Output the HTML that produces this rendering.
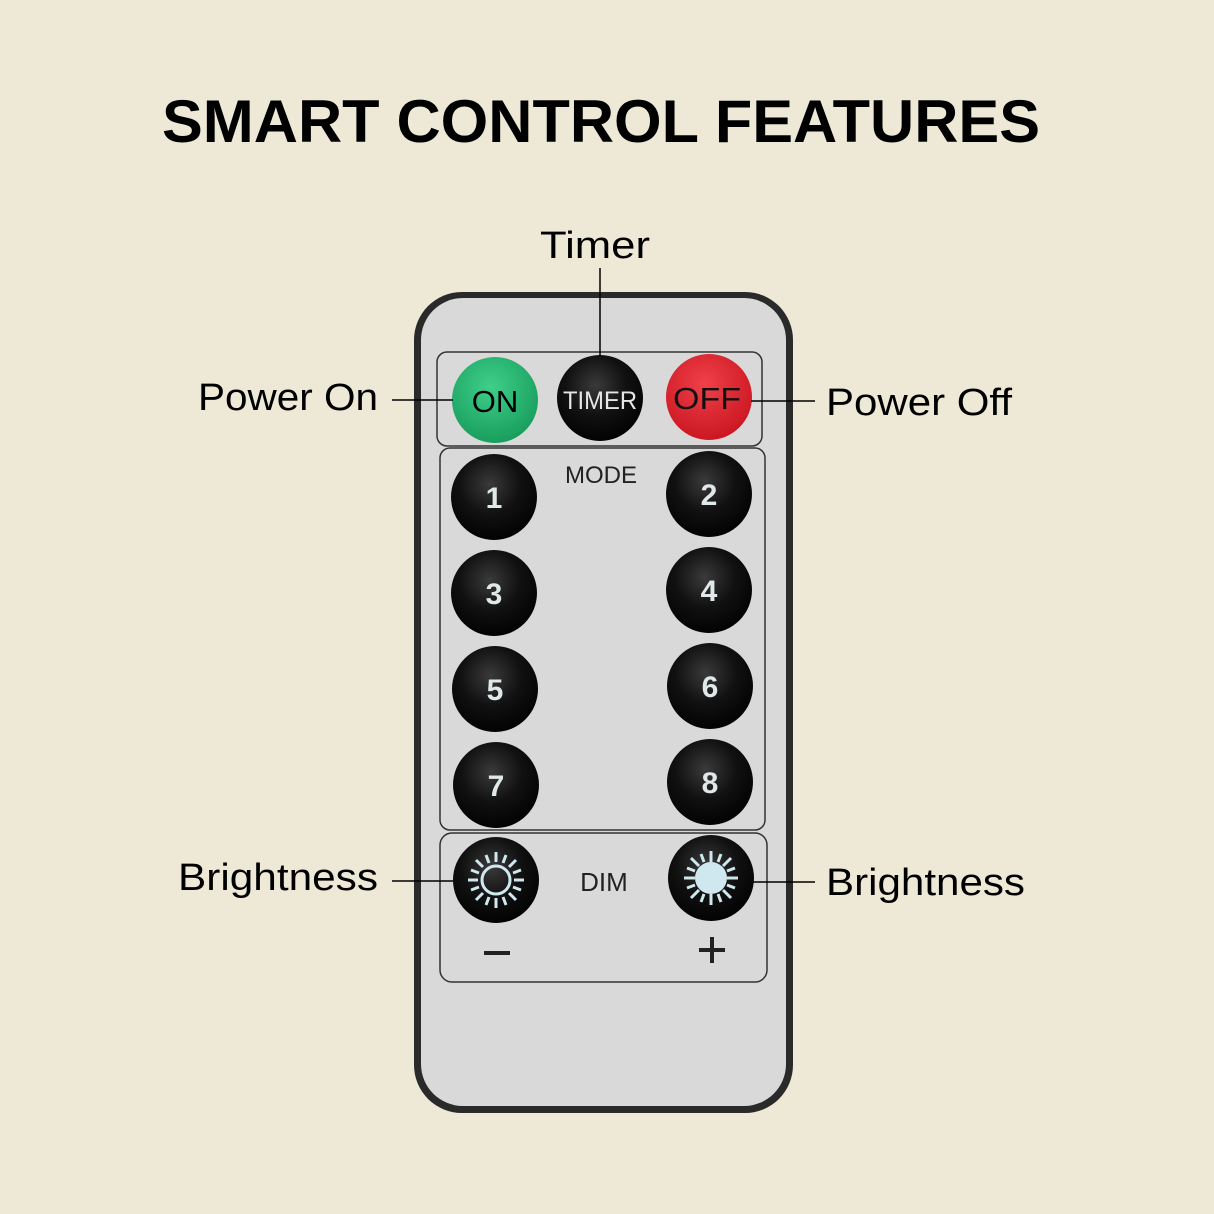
<!DOCTYPE html>
<html><head><meta charset="utf-8"><style>
html,body{margin:0;padding:0;background:#eee9d6;}
svg{display:block;}
</style></head><body>
<svg width="1214" height="1214" viewBox="0 0 1214 1214" xmlns="http://www.w3.org/2000/svg" font-family="Liberation Sans, sans-serif">
<defs>
<radialGradient id="blk" cx="0.45" cy="0.35" r="0.7"><stop offset="0" stop-color="#3a3a3a"/><stop offset="0.5" stop-color="#111"/><stop offset="1" stop-color="#000"/></radialGradient>
<radialGradient id="grn" cx="0.45" cy="0.35" r="0.7"><stop offset="0" stop-color="#3fcf8a"/><stop offset="1" stop-color="#169a5a"/></radialGradient>
<radialGradient id="red" cx="0.45" cy="0.35" r="0.7"><stop offset="0" stop-color="#f0404a"/><stop offset="1" stop-color="#c8141e"/></radialGradient>
</defs>
<rect width="1214" height="1214" fill="#eee9d6"/>
<text x="601" y="142" text-anchor="middle" font-size="60" font-weight="bold" textLength="878" lengthAdjust="spacingAndGlyphs" fill="#000">SMART CONTROL FEATURES</text>

<rect x="414" y="292" width="379" height="821" rx="48" fill="#2a2a2a"/>
<rect x="421" y="298" width="365" height="808" rx="42" fill="#d9d9d9"/>
<g fill="none" stroke="#333" stroke-width="1.5">
<rect x="437" y="352" width="325" height="94" rx="10"/>
<rect x="440" y="448" width="325" height="382" rx="10"/>
<rect x="440" y="833" width="327" height="149" rx="12"/>
</g>

<circle cx="495" cy="400" r="43" fill="url(#grn)"/>
<circle cx="600" cy="398" r="43" fill="url(#blk)"/>
<circle cx="709" cy="397" r="43" fill="url(#red)"/>
<text x="495" y="412" text-anchor="middle" font-size="31" fill="#000">ON</text>
<text x="600" y="409" text-anchor="middle" font-size="25" fill="#e6e6e6" textLength="74" lengthAdjust="spacingAndGlyphs">TIMER</text>
<text x="707" y="409" text-anchor="middle" font-size="31" fill="#111" textLength="68" lengthAdjust="spacingAndGlyphs">OFF</text>

<text x="601" y="483" text-anchor="middle" font-size="24" fill="#222">MODE</text>
<g fill="url(#blk)">
<circle cx="494" cy="497" r="43"/><circle cx="709" cy="494" r="43"/>
<circle cx="494" cy="593" r="43"/><circle cx="709" cy="590" r="43"/>
<circle cx="495" cy="689" r="43"/><circle cx="710" cy="686" r="43"/>
<circle cx="496" cy="785" r="43"/><circle cx="710" cy="782" r="43"/>
</g>
<g fill="#e0e8ea" font-size="30" font-weight="bold" text-anchor="middle">
<text x="494" y="508">1</text><text x="709" y="505">2</text>
<text x="494" y="604">3</text><text x="709" y="601">4</text>
<text x="495" y="700">5</text><text x="710" y="697">6</text>
<text x="496" y="796">7</text><text x="710" y="793">8</text>
</g>

<circle cx="496" cy="880" r="43" fill="url(#blk)"/>
<circle cx="711" cy="878" r="43" fill="url(#blk)"/>
<g stroke="#cfe7ee" stroke-width="3" fill="none">
<circle cx="496" cy="880" r="14"/>
<g transform="translate(496,880)">
<line x1="0" y1="-18" x2="0" y2="-28"/><line x1="0" y1="18" x2="0" y2="28"/><line x1="-18" y1="0" x2="-28" y2="0"/><line x1="18" y1="0" x2="28" y2="0"/>
<line x1="13" y1="13" x2="20" y2="20"/><line x1="-13" y1="13" x2="-20" y2="20"/><line x1="13" y1="-13" x2="20" y2="-20"/><line x1="-13" y1="-13" x2="-20" y2="-20"/>
<line x1="7" y1="17" x2="10" y2="25"/><line x1="-7" y1="17" x2="-10" y2="25"/><line x1="7" y1="-17" x2="10" y2="-25"/><line x1="-7" y1="-17" x2="-10" y2="-25"/>
<line x1="17" y1="7" x2="25" y2="10"/><line x1="-17" y1="7" x2="-25" y2="10"/><line x1="17" y1="-7" x2="25" y2="-10"/><line x1="-17" y1="-7" x2="-25" y2="-10"/>
</g>
<g transform="translate(711,878)">
<line x1="0" y1="-16" x2="0" y2="-27"/><line x1="0" y1="16" x2="0" y2="27"/><line x1="-16" y1="0" x2="-27" y2="0"/><line x1="16" y1="0" x2="27" y2="0"/>
<line x1="12" y1="12" x2="20" y2="20"/><line x1="-12" y1="12" x2="-20" y2="20"/><line x1="12" y1="-12" x2="20" y2="-20"/><line x1="-12" y1="-12" x2="-20" y2="-20"/>
<line x1="7" y1="16" x2="10" y2="24"/><line x1="-7" y1="16" x2="-10" y2="24"/><line x1="7" y1="-16" x2="10" y2="-24"/><line x1="-7" y1="-16" x2="-10" y2="-24"/>
<line x1="16" y1="7" x2="24" y2="10"/><line x1="-16" y1="7" x2="-24" y2="10"/><line x1="16" y1="-7" x2="24" y2="-10"/><line x1="-16" y1="-7" x2="-24" y2="-10"/>
</g>
</g>
<circle cx="711" cy="878" r="16" fill="#cfe7ee"/>
<text x="604" y="891" text-anchor="middle" font-size="26" fill="#222">DIM</text>
<rect x="484" y="951" width="26" height="4" fill="#222"/>
<rect x="699" y="948" width="26" height="4" fill="#222"/>
<rect x="710" y="937" width="4" height="26" fill="#222"/>

<g stroke="#000" stroke-width="1.5">
<line x1="600" y1="268" x2="600" y2="356"/>
<line x1="392" y1="400" x2="453" y2="400"/>
<line x1="751" y1="401" x2="815" y2="401"/>
<line x1="392" y1="881" x2="453" y2="881"/>
<line x1="753" y1="882" x2="815" y2="882"/>
</g>
<g font-size="38" fill="#000">
<text x="540" y="258" textLength="110" lengthAdjust="spacingAndGlyphs">Timer</text>
<text x="198" y="410" textLength="180" lengthAdjust="spacingAndGlyphs">Power On</text>
<text x="826" y="415" textLength="186" lengthAdjust="spacingAndGlyphs">Power Off</text>
<text x="178" y="890" textLength="200" lengthAdjust="spacingAndGlyphs">Brightness</text>
<text x="826" y="895" textLength="199" lengthAdjust="spacingAndGlyphs">Brightness</text>
</g>
</svg>
</body></html>
